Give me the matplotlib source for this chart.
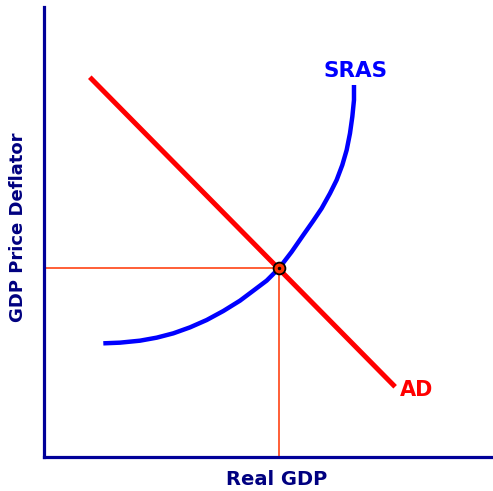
import matplotlib
matplotlib.use("Agg")
import matplotlib.pyplot as plt

# Data (arbitrary units, axes span 0..10)
ad_x = [1.02, 7.82]
ad_y = [8.44, 1.56]

sras_x = [1.321, 1.693, 2.138, 2.510, 2.880, 3.252, 3.623, 3.993, 4.365, 4.662, 4.960,
          5.234, 5.516, 5.775, 5.998, 6.184, 6.370, 6.518, 6.644, 6.741, 6.815, 6.867,
          6.904, 6.904]
sras_y = [2.526, 2.541, 2.585, 2.652, 2.748, 2.881, 3.044, 3.244, 3.474, 3.696, 3.920,
          4.193, 4.560, 4.933, 5.250, 5.526, 5.859, 6.156, 6.489, 6.822, 7.193, 7.563,
          7.933, 8.267]

eq_x = 5.23
eq_y = 4.20

x_label = "Real GDP"
y_label = "GDP Price Deflator"

navy = "#000099"
fig = plt.figure(figsize=(4.93, 4.91), dpi=100)
ax = fig.add_axes([44 / 493, (491 - 457) / 491, 449 / 493, 450 / 491])
ax.set_xlim(0, 10)
ax.set_ylim(0, 10)
for s in ["top", "right"]:
    ax.spines[s].set_visible(False)
for s in ["left", "bottom"]:
    ax.spines[s].set_color(navy)
    ax.spines[s].set_linewidth(2.3)
ax.set_xticks([])
ax.set_yticks([])

# guide lines
ax.plot([0, eq_x], [eq_y, eq_y], color="#FF3300", lw=1.1, zorder=2)
ax.plot([eq_x, eq_x], [0, eq_y], color="#FF3300", lw=1.1, zorder=2)

ax.plot(sras_x, sras_y, color="#0000FF", lw=3.2, solid_capstyle="butt",
        solid_joinstyle="round", zorder=3)
ax.plot(ad_x, ad_y, color="#FF0000", lw=3.6, solid_capstyle="butt", zorder=4)
ax.plot([eq_x], [eq_y], marker="o", ms=8.5, mfc="#FF3300", mec="black", mew=1.3, zorder=5)
ax.plot([eq_x], [eq_y], marker="o", ms=1.5, mfc="black", mec="black", zorder=6)

ax.text(6.93, 8.58, "SRAS", color="#0000FF", fontsize=15.5, fontweight="bold",
        ha="center", va="center", family="DejaVu Sans")
ax.text(8.29, 1.49, "AD", color="#FF0000", fontsize=15, fontweight="bold",
        ha="center", va="center", family="DejaVu Sans")
ax.text(5.19, -0.49, x_label, color="#000080", fontsize=14, fontweight="bold",
        ha="center", va="center", family="DejaVu Sans", clip_on=False)
ax.text(-0.58, 5.11, y_label, color="#000080", fontsize=13, fontweight="bold",
        ha="center", va="center", rotation=90, family="DejaVu Sans", clip_on=False)

fig.savefig("out.png", dpi=100)
